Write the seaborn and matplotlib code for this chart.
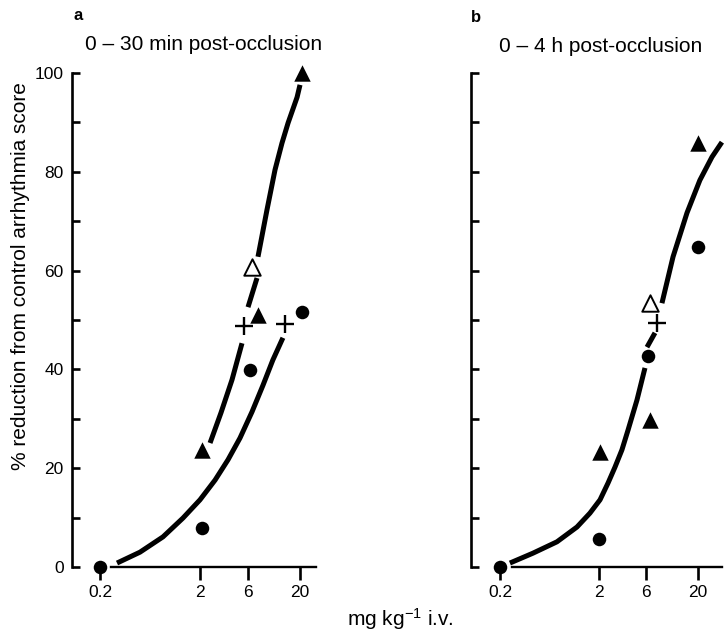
import numpy as np
import pandas as pd
import matplotlib
matplotlib.use("Agg")
import matplotlib.pyplot as plt
import seaborn as sns
from matplotlib.ticker import FixedLocator, NullLocator

# ---------------- data ----------------
x_ticks = [0.2, 2, 6, 20]
x_tick_labels = ["0.2", "2", "6", "20"]
y_ticks = [0, 10, 20, 30, 40, 50, 60, 70, 80, 90, 100]
y_tick_labels_a = ["0", "", "20", "", "40", "", "60", "", "80", "", "100"]

# panel a : 0-30 min
a_circle_x = [0.2, 2.1, 6.3, 20.9]
a_circle_y = [0, 7.9, 39.9, 51.6]
a_tri_x = [2.1, 7.6, 20.9]
a_tri_y = [23.7, 51.0, 100]
a_open_x = [6.6]
a_open_y = [60.7]
a_cross_x = [5.5, 14.2]
a_cross_y = [48.8, 49.2]

a_steep_x = [2.52, 3.24, 4.18, 5.26, 6.04, 7.43, 7.6, 9.35, 11.25, 13.2, 15.2, 18.7, 20.0]
a_steep_y = [25.1, 31.2, 37.9, 45.3, 52.6, 58.5, 62.8, 72.3, 80.4, 85.8, 89.9, 95.1, 97.6]
a_steep_seg = [0, 0, 0, 0, 1, 1, 2, 2, 2, 2, 2, 2, 2]

a_shallow_x = [0.296, 0.502, 0.853, 1.35, 2.0, 2.83, 3.81, 5.02, 6.62, 8.53, 10.7, 13.5]
a_shallow_y = [0.8, 3.0, 6.1, 9.9, 13.6, 17.6, 21.7, 26.1, 31.4, 36.8, 41.9, 46.4]

# panel b : 0-4 h
b_circle_x = [0.2, 2.0, 6.25, 20.0]
b_circle_y = [0, 5.7, 42.7, 64.8]
b_tri_x = [2.05, 6.55, 20.0]
b_tri_y = [23.3, 29.8, 85.8]
b_open_x = [6.55]
b_open_y = [53.4]
b_cross_x = [7.7]
b_cross_y = [49.4]

b_curve_x = [0.252, 0.431, 0.753, 1.20, 1.62, 2.05, 2.47, 2.90, 3.41, 3.93, 4.84, 5.83,
             6.11, 7.36, 8.65, 11.2, 15.5, 20.9, 27.7, 34.9]
b_curve_y = [0.8, 2.8, 5.1, 8.1, 10.9, 13.6, 17.0, 20.2, 23.7, 27.7, 33.8, 40.3,
             44.5, 47.4, 53.4, 62.8, 71.7, 78.3, 83.0, 86.0]
b_curve_seg = [0] * 12 + [1] * 2 + [2] * 6

# ---------------- style ----------------
sns.set_theme(style="ticks", rc={
    "text.color": "black", "axes.labelcolor": "black",
    "xtick.color": "black", "ytick.color": "black",
    "axes.edgecolor": "black",
})
plt.rcParams["font.family"] = ["Liberation Sans", "DejaVu Sans"]
plt.rcParams["mathtext.fontset"] = "custom"
plt.rcParams["mathtext.rm"] = "Liberation Sans"
plt.rcParams["mathtext.it"] = "Liberation Sans:italic"
plt.rcParams["mathtext.bf"] = "Liberation Sans:bold"

W, H = 728, 632
fig = plt.figure(figsize=(W / 100, H / 100), dpi=100)
axa = fig.add_axes([72 / W, 65 / H, 244 / W, 494 / H])
axb = fig.add_axes([471 / W, 65 / H, 257 / W, 494 / H])

LW = 3.6


def curve(ax, xs, ys, seg):
    df = pd.DataFrame({"x": xs, "y": ys, "seg": seg})
    sns.lineplot(data=df, x="x", y="y", units="seg", estimator=None, sort=False,
                 color="black", linewidth=LW, solid_capstyle="butt",
                 solid_joinstyle="round", ax=ax, legend=False, zorder=2)


def markers(ax, cx, cy, tx, ty, ox, oy, px, py):
    sns.scatterplot(x=cx, y=cy, marker="o", s=95, color="black", linewidth=0,
                    clip_on=False, zorder=4, ax=ax)
    sns.scatterplot(x=tx, y=ty, marker="^", s=140, color="black", linewidth=0,
                    clip_on=False, zorder=4, ax=ax)
    sns.scatterplot(x=ox, y=oy, marker="^", s=140, facecolor="white",
                    edgecolor="black", linewidth=1.4, clip_on=False, zorder=4, ax=ax)
    sns.scatterplot(x=px, y=py, marker="+", s=150, color="black", linewidth=1.7,
                    clip_on=False, zorder=4, ax=ax)


def style_axes(ax, xlim, xbounds, ylabels):
    ax.set_xscale("log")
    ax.set_xlim(*xlim)
    ax.set_ylim(0, 100)
    for s in ["top", "right"]:
        ax.spines[s].set_visible(False)
    ax.spines["left"].set_linewidth(1.9)
    ax.spines["bottom"].set_linewidth(1.7)
    ax.spines["left"].set_bounds(0, 100)
    ax.spines["bottom"].set_bounds(*xbounds)
    ax.xaxis.set_major_locator(FixedLocator(x_ticks))
    ax.xaxis.set_minor_locator(NullLocator())
    ax.set_xticklabels(x_tick_labels)
    ax.set_yticks(y_ticks)
    ax.set_yticklabels(ylabels)
    ax.tick_params(axis="y", direction="in", length=6, width=1.9, labelsize=12.5, pad=6)
    ax.tick_params(axis="x", direction="out", length=9, width=1.9, labelsize=12.5, pad=4)
    ax.set_xlabel("")
    ax.set_ylabel("")
    ax.patch.set_alpha(0)


# panel a
curve(axa, a_steep_x, a_steep_y, a_steep_seg)
curve(axa, a_shallow_x, a_shallow_y, [0] * len(a_shallow_x))
markers(axa, a_circle_x, a_circle_y, a_tri_x, a_tri_y, a_open_x, a_open_y, a_cross_x, a_cross_y)
style_axes(axa, (0.105, 28.9), (0.26, 28.9), y_tick_labels_a)

# panel b
curve(axb, b_curve_x, b_curve_y, b_curve_seg)
markers(axb, b_circle_x, b_circle_y, b_tri_x, b_tri_y, b_open_x, b_open_y, b_cross_x, b_cross_y)
style_axes(axb, (0.102, 40.2), (0.264, 34.9), [""] * len(y_ticks))

# texts
fig.text(73 / W, 1 - 20 / H, "a", fontsize=12, fontweight="bold", va="baseline")
fig.text(85 / W, 1 - 50.5 / H, "0 \u2013 30 min post-occlusion", fontsize=15, va="baseline")
fig.text(471 / W, 1 - 22 / H, "b", fontsize=12, fontweight="bold", va="baseline")
fig.text(499 / W, 1 - 51.5 / H, "0 \u2013 4 h post-occlusion", fontsize=15, va="baseline")
fig.text(21 / W, 1 - 276 / H, "% reduction from control arrhythmia score",
         rotation=90, ha="center", va="center", fontsize=15)
fig.text(347 / W, 1 - 626 / H, "mg kg$^{-1}$ i.v.", fontsize=15, va="baseline")

fig.savefig("out.png", dpi=100)
